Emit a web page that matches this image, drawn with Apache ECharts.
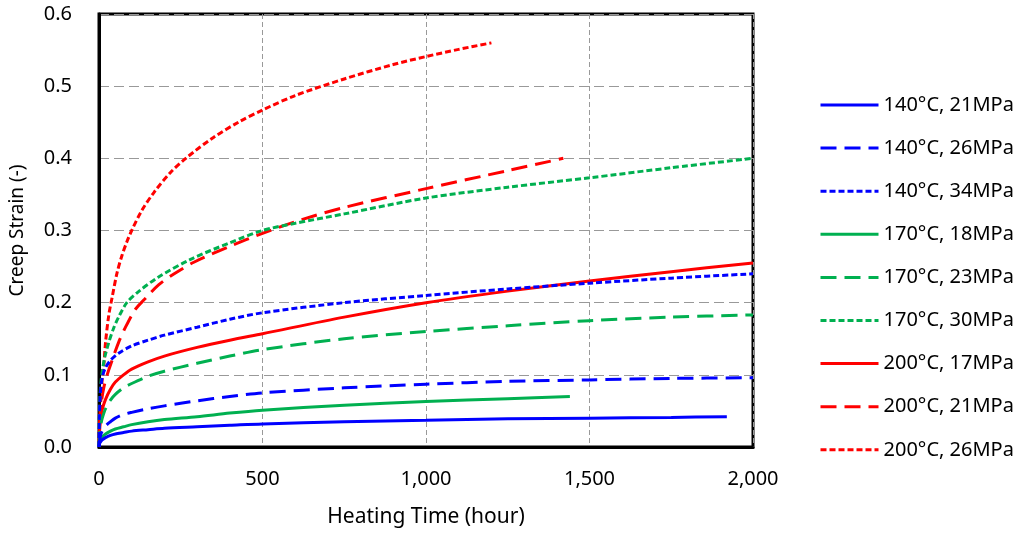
<!DOCTYPE html>
<html>
<head>
<meta charset="utf-8">
<script src="https://cdn.jsdelivr.net/npm/echarts@6/dist/echarts.min.js"></script>
<style>
html,body{margin:0;padding:0;background:#fff;}
#chart{width:1033px;height:533px;}
</style>
</head>
<body>
<div id="chart"></div>
<script>
// Series names
const seriesNames = ['140°C, 21MPa','140°C, 26MPa','140°C, 34MPa','170°C, 18MPa','170°C, 23MPa','170°C, 30MPa','200°C, 17MPa','200°C, 21MPa','200°C, 26MPa'];

// Heating time (hour) and creep strain (-) for each curve
const t_140_21 = [0,1,3,6,10,20,35,50,75,100,150,200,300,400,500,750,1000,1250,1500,1750,1920];
const e_140_21 = [0,0.003,0.006,0.008,0.01,0.013,0.016,0.018,0.02,0.022,0.024,0.026,0.028,0.03,0.032,0.035,0.037,0.039,0.04,0.041,0.042];

const t_140_26 = [0,1,3,6,10,20,35,50,75,100,150,200,300,400,500,750,1000,1250,1500,1750,2000];
const e_140_26 = [0,0.006,0.012,0.018,0.022,0.029,0.035,0.04,0.045,0.048,0.053,0.057,0.064,0.07,0.075,0.082,0.087,0.091,0.093,0.095,0.096];

const t_140_34 = [0,1,3,6,12,20,35,60,100,150,200,300,400,500,750,1000,1250,1500,1750,2000];
const e_140_34 = [0,0.04,0.065,0.085,0.1,0.11,0.12,0.13,0.14,0.148,0.155,0.166,0.177,0.186,0.2,0.21,0.219,0.227,0.234,0.24];

const t_170_18 = [0,1,3,6,10,20,35,50,75,100,150,200,300,400,500,750,1000,1250,1440];
const e_170_18 = [0,0.004,0.008,0.011,0.014,0.018,0.022,0.025,0.028,0.031,0.035,0.038,0.042,0.047,0.051,0.058,0.063,0.067,0.07];

const t_170_23 = [0,1,3,6,10,20,35,50,75,100,150,200,300,400,500,750,1000,1250,1500,1750,2000];
const e_170_23 = [0,0.012,0.022,0.032,0.04,0.053,0.065,0.073,0.082,0.088,0.098,0.105,0.116,0.126,0.135,0.15,0.16,0.168,0.175,0.18,0.183];

const t_170_30 = [0,1,3,6,10,18,30,45,60,85,120,180,280,400,500,600,750,1000,1250,1500,1750,2000];
const e_170_30 = [0,0.04,0.07,0.09,0.105,0.125,0.145,0.165,0.18,0.2,0.215,0.235,0.26,0.283,0.3,0.31,0.323,0.345,0.36,0.373,0.387,0.4];

const t_200_17 = [0,1,3,6,10,20,35,50,75,100,150,200,300,400,500,750,1000,1250,1500,1750,2000];
const e_200_17 = [0,0.015,0.03,0.042,0.052,0.066,0.08,0.09,0.1,0.108,0.118,0.126,0.138,0.148,0.157,0.18,0.2,0.216,0.23,0.243,0.255];

const t_200_21 = [0,1,3,8,15,25,40,60,80,110,140,183,230,290,400,500,620,750,1000,1250,1420];
const e_200_21 = [0,0.025,0.045,0.065,0.083,0.1,0.12,0.145,0.165,0.19,0.205,0.225,0.24,0.256,0.278,0.296,0.315,0.332,0.358,0.383,0.4];

const t_200_26 = [0,1,2,5,10,15,20,30,40,55,70,85,100,130,170,220,268,350,430,500,600,750,900,1000,1100,1200];
const e_200_26 = [0,0.02,0.033,0.06,0.095,0.115,0.145,0.183,0.207,0.241,0.265,0.284,0.3,0.327,0.354,0.381,0.401,0.429,0.451,0.467,0.487,0.51,0.53,0.541,0.551,0.56];

const xTicks = [0,500,1000,1500,2000];
const yTicks = [0,0.1,0.2,0.3,0.4,0.5,0.6];

const BLUE = '#0000FF', GREEN = '#00B050', RED = '#FF0000';
const LONG = [16,8], SHORT = [6,3];

const curves = [
  {t:t_140_21, e:e_140_21, color:BLUE, dash:'solid'},
  {t:t_140_26, e:e_140_26, color:BLUE, dash:LONG},
  {t:t_140_34, e:e_140_34, color:BLUE, dash:SHORT},
  {t:t_170_18, e:e_170_18, color:GREEN, dash:'solid'},
  {t:t_170_23, e:e_170_23, color:GREEN, dash:LONG},
  {t:t_170_30, e:e_170_30, color:GREEN, dash:SHORT},
  {t:t_200_17, e:e_200_17, color:RED, dash:'solid'},
  {t:t_200_21, e:e_200_21, color:RED, dash:LONG},
  {t:t_200_26, e:e_200_26, color:RED, dash:SHORT}
];

const FONT = 'Noto Sans';

const series = curves.map((c, i) => ({
  name: seriesNames[i],
  type: 'line',
  smooth: 0.3,
  showSymbol: false,
  symbol: 'none',
  data: c.t.map((x, k) => [x, c.e[k]]),
  lineStyle: {color: c.color, width: 3, type: c.dash},
  itemStyle: {color: c.color},
  z: 10 - i
}));

const chart = echarts.init(document.getElementById('chart'), null, {renderer: 'canvas'});
chart.setOption({
  animation: false,
  backgroundColor: '#fff',
  grid: {left: 97, right: 280, top: 14, bottom: 86, show: true, borderColor: '#000', borderWidth: 3, containLabel: false},
  legend: {
    orient: 'vertical',
    left: 814,
    top: 90,
    itemWidth: 58,
    itemHeight: 14,
    itemGap: 23.1,
    itemStyle: {color: 'rgba(0,0,0,0)', borderWidth: 0, opacity: 0},
    lineStyle: {width: 3},
    textStyle: {fontFamily: FONT, fontSize: 20, color: '#000'},
    data: seriesNames
  },
  xAxis: {
    type: 'value',
    min: xTicks[0], max: xTicks[xTicks.length-1], interval: 500,
    name: 'Heating Time (hour)',
    nameLocation: 'middle',
    nameGap: 60,
    nameTextStyle: {fontFamily: FONT, fontSize: 21, color: '#000'},
    axisLine: {show: true, lineStyle: {color: '#000', width: 3}},
    axisTick: {show: false},
    axisLabel: {fontFamily: FONT, fontSize: 20, color: '#000', margin: 22,
      formatter: v => v.toLocaleString('en-US')},
    splitLine: {show: true, lineStyle: {color: '#999', width: 1, type: [5,3]}}
  },
  yAxis: {
    type: 'value',
    min: yTicks[0], max: yTicks[yTicks.length-1], interval: 0.1,
    name: 'Creep Strain (-)',
    nameLocation: 'middle',
    nameGap: 72,
    nameTextStyle: {fontFamily: FONT, fontSize: 19, color: '#000'},
    axisLine: {show: true, lineStyle: {color: '#000', width: 3}},
    axisTick: {show: false},
    axisLabel: {fontFamily: FONT, fontSize: 20, color: '#000', margin: 27,
      formatter: v => v.toFixed(1)},
    splitLine: {show: true, lineStyle: {color: '#999', width: 1, type: [10,5]}}
  },
  series: series
});
</script>
</body>
</html>
